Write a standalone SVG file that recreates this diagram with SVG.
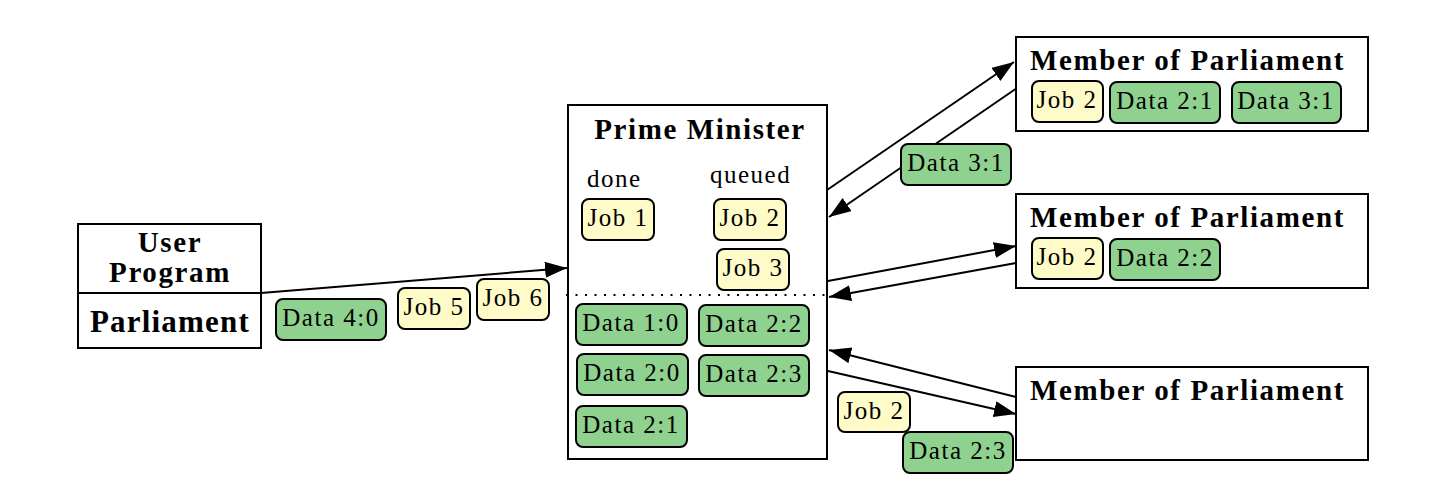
<svg xmlns="http://www.w3.org/2000/svg" width="1450" height="498" viewBox="0 0 1450 498">
<style>
.box{fill:#fff;stroke:#000;stroke-width:2}
.job{fill:#FFFBC9;stroke:#000;stroke-width:2}
.data{fill:#8FD18E;stroke:#000;stroke-width:2}
.t{font-family:"Liberation Serif","Times New Roman",serif;font-size:25px;letter-spacing:1.5px;fill:#000}
.c{text-anchor:middle}
.b{font-family:"Liberation Serif","Times New Roman",serif;font-size:29px;font-weight:bold;letter-spacing:1.6px;fill:#000}
.big{font-family:"Liberation Serif","Times New Roman",serif;font-size:31px;font-weight:bold;letter-spacing:1.2px;fill:#000;text-anchor:middle}
.edge{stroke:#000;stroke-width:2;fill:none;marker-end:url(#ah)}
</style>
<defs>
<marker id="ah" markerUnits="userSpaceOnUse" markerWidth="24" markerHeight="18" refX="22" refY="8" orient="auto">
<path d="M0,0 L22,8 L0,16 z" fill="#000"/>
</marker>
</defs>
<rect width="1450" height="498" fill="#fff"/>

<g id="connectors">
<line class="edge" x1="261" y1="293" x2="567" y2="268"/>
<line class="edge" x1="827" y1="190" x2="1014" y2="62"/>
<line class="edge" x1="1017" y1="88" x2="829" y2="217"/>
<line class="edge" x1="828" y1="281" x2="1016" y2="246"/>
<line class="edge" x1="1016" y1="263" x2="829" y2="297"/>
<line class="edge" x1="1016" y1="397" x2="829" y2="350"/>
<line class="edge" x1="828" y1="371" x2="1016" y2="414"/>
<g id="edge-labels">
<rect class="data" x="276" y="299" width="110" height="41" rx="7"/>
<text class="t c" x="331" y="326">Data 4:0</text>
<rect class="job" x="398" y="288" width="72" height="41" rx="7"/>
<text class="t c" x="434" y="315">Job 5</text>
<rect class="job" x="477" y="279" width="72" height="41" rx="7"/>
<text class="t c" x="513" y="306">Job 6</text>
<rect class="data" x="901" y="144" width="110" height="41" rx="7"/>
<text class="t c" x="956" y="171">Data 3:1</text>
<rect class="job" x="838" y="392" width="72" height="40" rx="7"/>
<text class="t c" x="874" y="419">Job 2</text>
<rect class="data" x="903" y="432" width="110" height="41" rx="7"/>
<text class="t c" x="958" y="459">Data 2:3</text>
</g>
</g>

<g id="user-program">
<rect class="box" x="78" y="224" width="183" height="124"/>
<line x1="78" y1="293" x2="261" y2="293" stroke="#000" stroke-width="2"/>
<text class="b c" x="170" y="252">User</text>
<text class="b c" x="170" y="282">Program</text>
<text class="big" x="170" y="332">Parliament</text>
</g>

<g id="prime-minister">
<rect class="box" x="568" y="105" width="259" height="354"/>
<text class="b c" x="700" y="139">Prime Minister</text>
<text class="t" x="587" y="187">done</text>
<text class="t" x="710" y="183">queued</text>
<rect class="job" x="582" y="199" width="72" height="41" rx="7"/>
<text class="t c" x="618" y="226">Job 1</text>
<rect class="job" x="714" y="199" width="72" height="41" rx="7"/>
<text class="t c" x="750" y="226">Job 2</text>
<rect class="job" x="717" y="249" width="72" height="41" rx="7"/>
<text class="t c" x="753" y="276">Job 3</text>
<line x1="566" y1="295" x2="827" y2="295" stroke="#000" stroke-width="2" stroke-dasharray="2 7.5"/>
<rect class="data" x="576" y="304" width="111" height="41" rx="7"/>
<text class="t c" x="631" y="331">Data 1:0</text>
<rect class="data" x="699" y="305" width="110" height="41" rx="7"/>
<text class="t c" x="754" y="332">Data 2:2</text>
<rect class="data" x="577" y="354" width="111" height="41" rx="7"/>
<text class="t c" x="632" y="381">Data 2:0</text>
<rect class="data" x="699" y="355" width="110" height="41" rx="7"/>
<text class="t c" x="754" y="382">Data 2:3</text>
<rect class="data" x="576" y="406" width="111" height="41" rx="7"/>
<text class="t c" x="631" y="433">Data 2:1</text>
</g>

<g id="mp1">
<rect class="box" x="1016" y="37" width="352" height="94"/>
<text class="b" x="1030" y="70">Member of Parliament</text>
<rect class="job" x="1032" y="81" width="71" height="41" rx="7"/>
<text class="t c" x="1067" y="108">Job 2</text>
<rect class="data" x="1110" y="82" width="110" height="41" rx="7"/>
<text class="t c" x="1165" y="109">Data 2:1</text>
<rect class="data" x="1232" y="82" width="109" height="41" rx="7"/>
<text class="t c" x="1286" y="109">Data 3:1</text>
</g>

<g id="mp2">
<rect class="box" x="1016" y="194" width="352" height="94"/>
<text class="b" x="1030" y="227">Member of Parliament</text>
<rect class="job" x="1032" y="238" width="71" height="41" rx="7"/>
<text class="t c" x="1067" y="265">Job 2</text>
<rect class="data" x="1110" y="239" width="110" height="41" rx="7"/>
<text class="t c" x="1165" y="266">Data 2:2</text>
</g>

<g id="mp3">
<rect class="box" x="1016" y="367" width="352" height="93"/>
<text class="b" x="1030" y="400">Member of Parliament</text>
</g>
</svg>
